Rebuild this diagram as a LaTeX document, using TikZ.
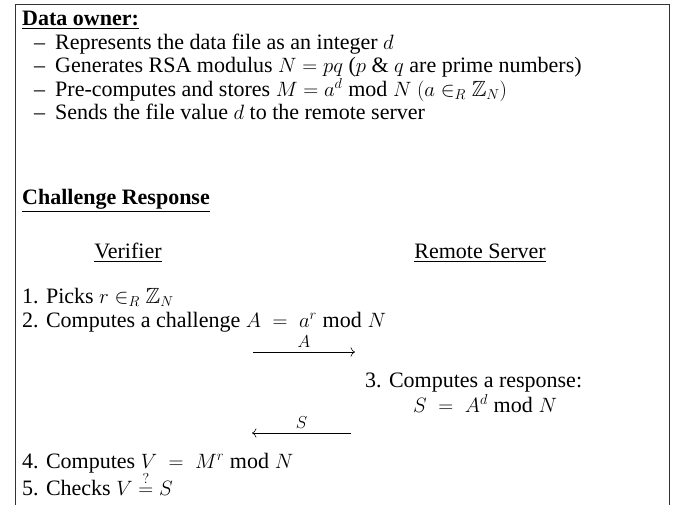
\documentclass[tikz,border=0pt]{standalone}
\usepackage{amssymb}
\usepackage{fontspec}
\setmainfont{Liberation Serif}
\usetikzlibrary{arrows.meta}
\tikzset{
  txt/.style={anchor=base west, inner sep=0pt, font=\fontsize{22}{26}\selectfont},
  ctr/.style={anchor=base, inner sep=0pt, font=\fontsize{22}{26}\selectfont},
  lbl/.style={above=4pt, inner sep=0pt, font=\fontsize{17}{20}\selectfont},
  msg/.style={-{Computer Modern Rightarrow[scale=1.5]}, line width=0.6pt},
  frame/.style={line width=0.9pt, draw=black!80}
}
\begin{document}
\begin{tikzpicture}[x=1pt,y=-1pt]
\useasboundingbox (0,0) rectangle (678,504);
\draw[frame] (15,510) -- (15,4) -- (669,4) -- (669,510);
% Data owner
\node[txt] (owner) at (22,25) {\textbf{\underline{Data owner:}}};
\node[txt] (d1) at (34,49) {\textendash};
\node[txt] (t1) at (55,49) {Represents the data file as an integer $d$};
\node[txt] (d2) at (34,72) {\textendash};
\node[txt] (t2) at (55,72) {Generates RSA modulus $N=pq$ ($p$ \& $q$ are prime numbers)};
\node[txt] (d3) at (34,96) {\textendash};
\node[txt] (t3) at (55,96) {Pre-computes and stores $M=a^d \bmod N$ $(a\in_R\mathbb{Z}_N)$};
\node[txt] (d4) at (34,119) {\textendash};
\node[txt] (t4) at (55,119) {Sends the file value $d$ to the remote server};
% Challenge response
\node[txt] (chal) at (22,204) {\textbf{\underline{Challenge Response}}};
\node[ctr] (ver) at (128,258) {\underline{Verifier}};
\node[ctr] (srv) at (480,258) {\underline{Remote Server}};
\node[txt] (s1) at (22,303) {1. Picks $r\in_R\mathbb{Z}_N$};
\node[txt] (s2) at (22,327) {2. Computes a challenge $A\;=\;a^r \bmod N$};
\coordinate (a0) at (253,352);
\coordinate (a1) at (355,352);
\draw[msg] (a0) -- node[lbl] {$A$} (a1);
\node[txt] (s3) at (365,387) {3. Computes a response:};
\node[txt] (s3b) at (413,412) {$S\;=\;A^d \bmod N$};
\coordinate (b0) at (351,433);
\coordinate (b1) at (252,433);
\draw[msg] (b0) -- node[lbl] {$S$} (b1);
\node[txt] (s4) at (22,468) {4. Computes $V\;=\;M^r \bmod N$};
\node[txt] (s5) at (22,495) {5. Checks $V\stackrel{?}{=}S$};
\end{tikzpicture}
\end{document}
